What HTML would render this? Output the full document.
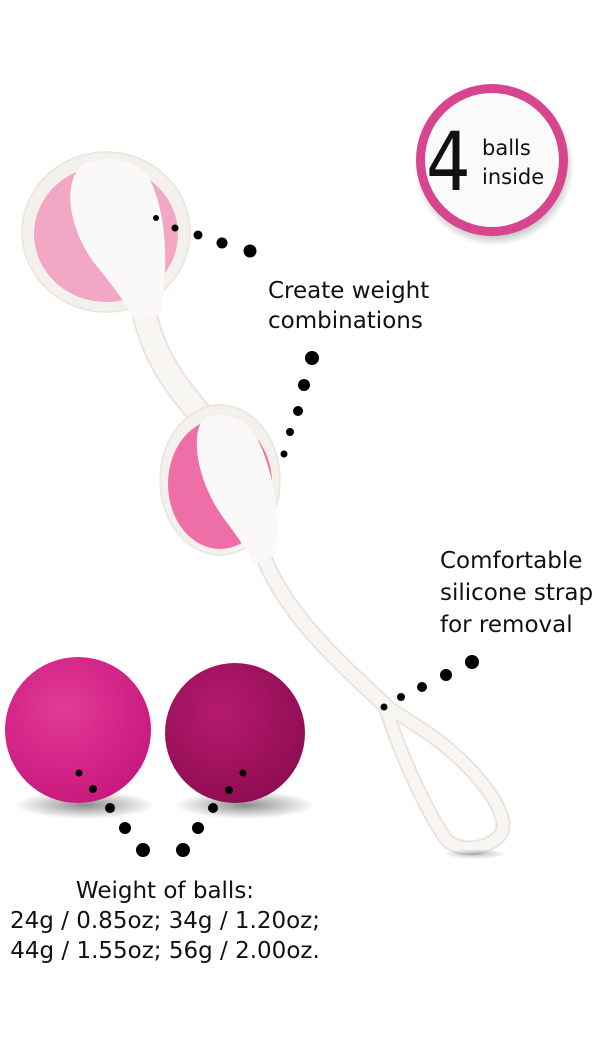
<!DOCTYPE html>
<html><head><meta charset="utf-8"><style>
html,body{margin:0;padding:0;background:#fff;}
svg{display:block}
text{font-family:"DejaVu Sans","Liberation Sans",sans-serif;fill:#111;}
</style></head><body>
<svg width="600" height="1050" viewBox="0 0 600 1050" xmlns="http://www.w3.org/2000/svg">
<defs>
<radialGradient id="sh" cx="50%" cy="50%" r="50%"><stop offset="0" stop-color="#000" stop-opacity="0.45"/><stop offset="1" stop-color="#000" stop-opacity="0"/></radialGradient>
<radialGradient id="m1" cx="40%" cy="35%" r="70%"><stop offset="0" stop-color="#e23a97"/><stop offset="1" stop-color="#c8177d"/></radialGradient>
<radialGradient id="m2" cx="40%" cy="35%" r="70%"><stop offset="0" stop-color="#b51a6e"/><stop offset="1" stop-color="#8e0c52"/></radialGradient>
<radialGradient id="bd" cx="50%" cy="50%" r="50%"><stop offset="0.85" stop-color="#000" stop-opacity="0.25"/><stop offset="1" stop-color="#000" stop-opacity="0"/></radialGradient>
</defs>
<!-- badge -->
<circle cx="494" cy="166" r="80" fill="url(#bd)"/>
<circle cx="492" cy="160" r="76" fill="#d8458f"/>
<circle cx="492" cy="160" r="67" fill="#fafafa"/>
<text x="426" y="190" font-size="74" font-family="Liberation Sans" transform="translate(426 190) scale(0.95 1.1) translate(-426 -190)">4</text>
<text x="482" y="155" font-size="21">balls</text>
<text x="482" y="184" font-size="21">inside</text>
<!-- stem top->mid -->
<path d="M142 300 C150 350,170 380,205 420" stroke="#e9e4df" stroke-width="26" fill="none" stroke-linecap="round"/>
<path d="M142 300 C150 350,170 380,205 420" stroke="#f8f6f3" stroke-width="22" fill="none" stroke-linecap="round"/>
<!-- top ball -->
<ellipse cx="106" cy="232" rx="84" ry="80" fill="#f4f0ec" stroke="#e9e4df" stroke-width="1.5"/>
<ellipse cx="106" cy="234" rx="72" ry="68" fill="#f2a7c5"/>
<path d="M90 162 C60 170,65 230,100 270 C120 295,130 310,135 320 L160 315 C170 260,165 210,150 180 C140 160,110 155,90 162Z" fill="#fbf9f7"/>
<!-- strap -->
<g stroke="#e9e4df" fill="none" stroke-linecap="round" stroke-linejoin="round">
<path d="M265 560 C285 610,330 655,385 705" stroke-width="17"/>
<path d="M385 705 C395 740,420 800,445 838 C455 852,490 852,502 832 C510 810,470 760,420 728 C405 718,392 710,385 705Z" stroke-width="15"/>
</g>
<g stroke="#f8f6f3" fill="none" stroke-linecap="round" stroke-linejoin="round">
<path d="M265 560 C285 610,330 655,385 705" stroke-width="13"/>
<path d="M385 705 C395 740,420 800,445 838 C455 852,490 852,502 832 C510 810,470 760,420 728 C405 718,392 710,385 705Z" stroke-width="11"/>
</g>
<ellipse cx="475" cy="854" rx="32" ry="5" fill="url(#sh)" opacity="0.6"/>
<!-- mid ball -->
<ellipse cx="220" cy="480" rx="60" ry="75" fill="#f4f0ec" stroke="#e9e4df" stroke-width="1.5"/>
<ellipse cx="220" cy="484" rx="52" ry="65" fill="#ee6fa7"/>
<path d="M205 418 C190 430,195 480,225 520 C240 540,250 555,255 565 L275 555 C282 510,270 460,255 435 C245 418,220 410,205 418Z" fill="#fbf9f7"/>
<!-- magenta balls -->
<ellipse cx="85" cy="805" rx="70" ry="14" fill="url(#sh)"/>
<ellipse cx="245" cy="805" rx="70" ry="14" fill="url(#sh)"/>
<circle cx="78" cy="730" r="73" fill="url(#m1)"/>
<circle cx="235" cy="733" r="70" fill="url(#m2)"/>
<!-- dots -->
<g fill="#000">
<circle cx="156" cy="218" r="3"/><circle cx="175" cy="228" r="3.5"/><circle cx="198" cy="235" r="4.5"/><circle cx="222" cy="243" r="5.5"/><circle cx="250" cy="251" r="6.5"/>
<circle cx="312" cy="358" r="7"/><circle cx="304" cy="385" r="6"/><circle cx="298" cy="411" r="5"/><circle cx="290" cy="432" r="4"/><circle cx="284" cy="454" r="3.5"/>
<circle cx="472" cy="662" r="7"/><circle cx="446" cy="675" r="6"/><circle cx="422" cy="687" r="5"/><circle cx="401" cy="697" r="4"/><circle cx="384" cy="707" r="3.5"/>
<circle cx="79" cy="773" r="3.5"/><circle cx="93" cy="789" r="4"/><circle cx="110" cy="808" r="5"/><circle cx="125" cy="828" r="6"/><circle cx="143" cy="850" r="7"/>
<circle cx="243" cy="773" r="3.5"/><circle cx="229" cy="790" r="4"/><circle cx="213" cy="808" r="5"/><circle cx="198" cy="828" r="6"/><circle cx="183" cy="850" r="7"/>
</g>
<!-- labels -->
<text x="268" y="298" font-size="23">Create weight</text>
<text x="268" y="328" font-size="23">combinations</text>
<text x="440" y="568" font-size="23">Comfortable</text>
<text x="440" y="600" font-size="23">silicone strap</text>
<text x="440" y="632" font-size="23">for removal</text>
<text x="165" y="898" font-size="23" text-anchor="middle">Weight of balls:</text>
<text x="165" y="928" font-size="23" text-anchor="middle">24g / 0.85oz; 34g / 1.20oz;</text>
<text x="165" y="958" font-size="23" text-anchor="middle">44g / 1.55oz; 56g / 2.00oz.</text>
</svg>
</body></html>
